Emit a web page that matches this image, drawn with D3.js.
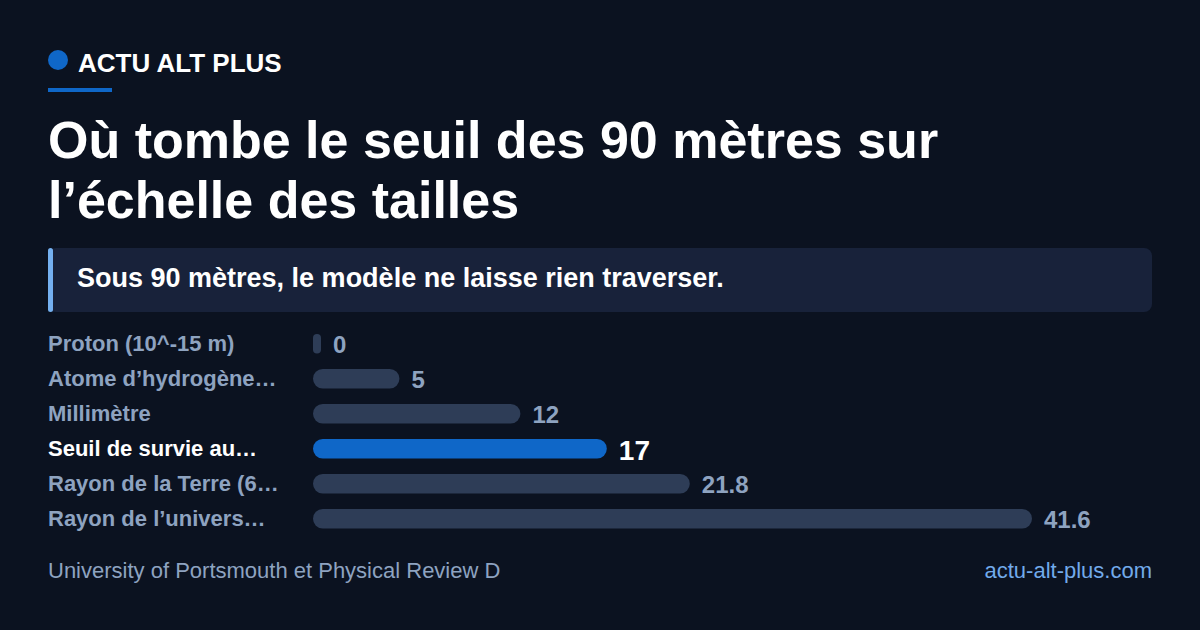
<!DOCTYPE html>
<html><head><meta charset="utf-8">
<script src="https://cdn.jsdelivr.net/npm/d3@7"></script>
<style>html,body{margin:0;padding:0;background:#0b1220;}svg{display:block;}</style>
</head><body>
<script>
const categories = ["Proton (10^-15 m)", "Atome d’hydrogène…", "Millimètre", "Seuil de survie au…", "Rayon de la Terre (6…", "Rayon de l’univers…"];
const values = [0, 5, 12, 17, 21.8, 41.6];
const valueLabels = ["0", "5", "12", "17", "21.8", "41.6"];
const highlightIndex = 3;
const brand = "ACTU ALT PLUS";
const titleLines = ["Où tombe le seuil des 90 mètres sur", "l’échelle des tailles"];
const callout = "Sous 90 mètres, le modèle ne laisse rien traverser.";
const source = "University of Portsmouth et Physical Review D";
const site = "actu-alt-plus.com";

const W = 1200, H = 630;
const font = "'Liberation Sans', Arial, Helvetica, sans-serif";
const svg = d3.select("body").append("svg").attr("width", W).attr("height", H).style("font-family", font);
svg.append("rect").attr("width", W).attr("height", H).attr("fill", "#0b1220");

// header
svg.append("circle").attr("cx", 58).attr("cy", 60).attr("r", 10).attr("fill", "#0f67c8");
svg.append("text").attr("x", 78).attr("y", 72).attr("fill", "#ffffff").attr("font-size", 26).attr("font-weight", 700).text(brand);
svg.append("rect").attr("x", 48).attr("y", 88).attr("width", 64).attr("height", 4).attr("fill", "#0f67c8");

// title
svg.selectAll("text.title").data(titleLines).join("text").attr("class", "title")
  .attr("x", 48).attr("y", (d, i) => 158 + i * 60)
  .attr("fill", "#ffffff").attr("font-size", 52).attr("font-weight", 700).text(d => d);

// callout
svg.append("rect").attr("x", 48).attr("y", 248).attr("width", 1104).attr("height", 64).attr("rx", 8).attr("fill", "#18223a");
svg.append("rect").attr("x", 48).attr("y", 248).attr("width", 5).attr("height", 64).attr("rx", 2.5).attr("fill", "#74b0f0");
svg.append("text").attr("x", 77).attr("y", 287).attr("fill", "#ffffff").attr("font-size", 27).attr("font-weight", 700).text(callout);

// bars
const x0 = 313;
const x = d3.scaleLinear().domain([0, d3.max(values)]).range([0, 719]);
const bh = 19.5, step = 35, top0 = 334;
const minW = 8;
const bw = d => Math.max(minW, x(d));
const g = svg.append("g");
const rows = g.selectAll("g.row").data(values).join("g").attr("class", "row");
rows.append("rect")
  .attr("x", x0).attr("y", (d, i) => top0 + i * step)
  .attr("width", bw).attr("height", bh)
  .attr("rx", d => Math.min(bh / 2, bw(d) / 2)).attr("ry", d => Math.min(bh / 2, bw(d) / 2))
  .attr("fill", (d, i) => i === highlightIndex ? "#0f67c8" : "#2e3d57");
rows.append("text")
  .attr("x", 48).attr("y", (d, i) => top0 + i * step + bh / 2 - 1).attr("dy", "0.36em")
  .attr("fill", (d, i) => i === highlightIndex ? "#ffffff" : "#8ea3c0")
  .attr("font-size", 22).attr("font-weight", 700).text((d, i) => categories[i]);
rows.append("text")
  .attr("x", d => x0 + bw(d) + 12).attr("y", (d, i) => top0 + i * step + bh / 2 + 1).attr("dy", "0.36em")
  .attr("fill", (d, i) => i === highlightIndex ? "#ffffff" : "#8ea3c0")
  .attr("font-size", (d, i) => i === highlightIndex ? 28 : 24).attr("font-weight", 700).text((d, i) => valueLabels[i]);

// footer
svg.append("text").attr("x", 48).attr("y", 578).attr("fill", "#8ea3c0").attr("font-size", 22).text(source);
svg.append("text").attr("x", 1152).attr("y", 578).attr("text-anchor", "end").attr("fill", "#72aaea").attr("font-size", 22).text(site);
</script>
</body></html>
